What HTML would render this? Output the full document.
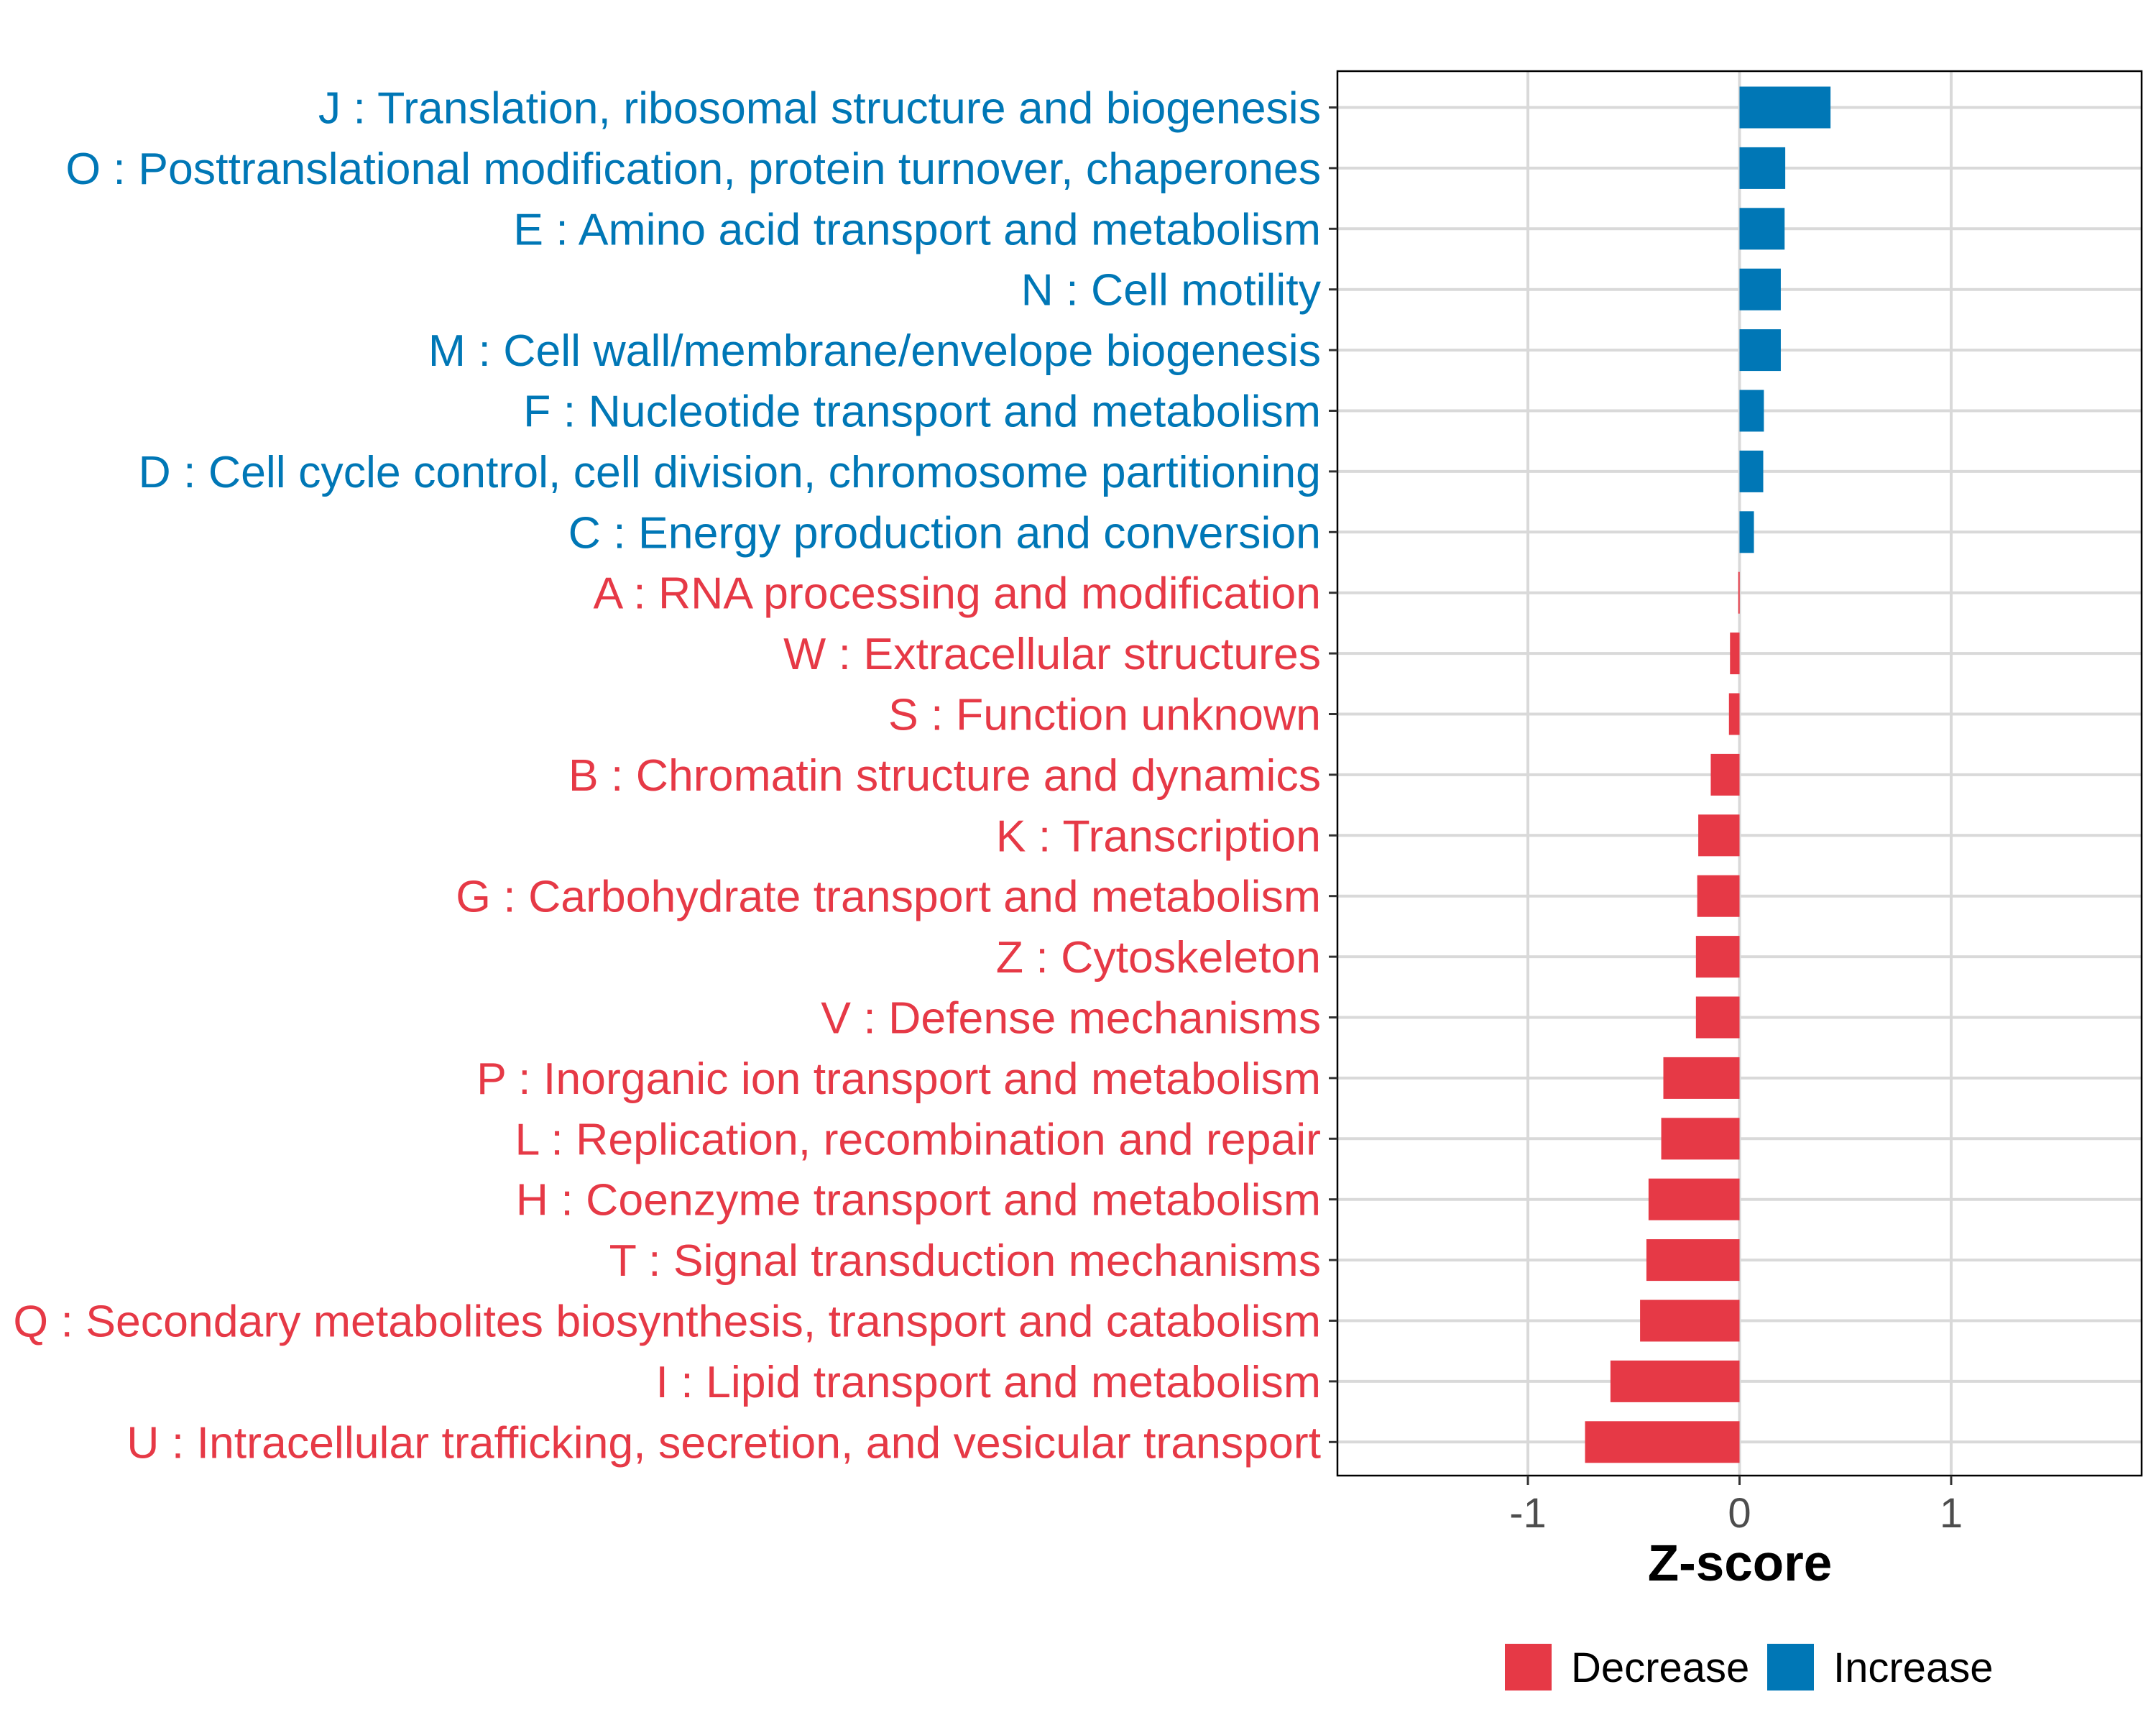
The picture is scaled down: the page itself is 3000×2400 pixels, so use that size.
<!DOCTYPE html>
<html><head><meta charset="utf-8"><style>
html,body{margin:0;padding:0;background:#fff;width:3000px;height:2400px;overflow:hidden}
svg{display:block}
text{font-family:"Liberation Sans",Arial,sans-serif}
</style></head><body>
<svg id="chart" width="3000" height="2400" viewBox="0 0 3000 2400" xmlns="http://www.w3.org/2000/svg">
<rect width="3000" height="2400" fill="#fff"/>
<g id="grid"></g>
<g id="bars"></g>
<rect x="1861" y="99" width="1119" height="1954" fill="none" stroke="#000" stroke-width="2.5"/>
<g id="yaxis"></g>
<g id="xaxis"></g>
<text x="2421" y="2199" font-size="71" font-weight="bold" text-anchor="middle" fill="#000">Z-score</text>
<g>
<rect x="2094" y="2287" width="65" height="65" fill="#E63946"/>
<text x="2186" y="2340" font-size="58" fill="#000">Decrease</text>
<rect x="2459" y="2287" width="65" height="65" fill="#0077B6"/>
<text x="2551" y="2340" font-size="58" fill="#000">Increase</text>
</g>
</svg>
<script>
const categories = [
"J : Translation, ribosomal structure and biogenesis",
"O : Posttranslational modification, protein turnover, chaperones",
"E : Amino acid transport and metabolism",
"N : Cell motility",
"M : Cell wall/membrane/envelope biogenesis",
"F : Nucleotide transport and metabolism",
"D : Cell cycle control, cell division, chromosome partitioning",
"C : Energy production and conversion",
"A : RNA processing and modification",
"W : Extracellular structures",
"S : Function unknown",
"B : Chromatin structure and dynamics",
"K : Transcription",
"G : Carbohydrate transport and metabolism",
"Z : Cytoskeleton",
"V : Defense mechanisms",
"P : Inorganic ion transport and metabolism",
"L : Replication, recombination and repair",
"H : Coenzyme transport and metabolism",
"T : Signal transduction mechanisms",
"Q : Secondary metabolites biosynthesis, transport and catabolism",
"I : Lipid transport and metabolism",
"U : Intracellular trafficking, secretion, and vesicular transport"
];
const zscores = [0.43,0.216,0.213,0.195,0.195,0.115,0.112,0.068,-0.006,-0.045,-0.05,-0.136,-0.195,-0.2,-0.206,-0.206,-0.36,-0.37,-0.43,-0.44,-0.47,-0.61,-0.73];
const xTicks = [-1,0,1];
const xTickLabels = ["-1","0","1"];

const NS = "http://www.w3.org/2000/svg";
const xMin=-1.9, xMax=1.9, pL=1861, pR=2980;
const xs = v => pL + (v - xMin) / (xMax - xMin) * (pR - pL);
const rowTop=149.5, rowStep=84.4;
const ys = i => rowTop + i * rowStep;
const barH = 58;
const RED="#E63946", BLUE="#0077B6";
function mk(tag, attrs, parent){const e=document.createElementNS(NS,tag);for(const k in attrs)e.setAttribute(k,attrs[k]);parent.appendChild(e);return e;}
const grid=document.getElementById('grid'), bars=document.getElementById('bars'), yax=document.getElementById('yaxis'), xax=document.getElementById('xaxis');

xTicks.forEach((t,i)=>{
  const l=mk('line',{x1:xs(t),x2:xs(t),y1:99,y2:2053,stroke:'#D9D9D9','stroke-width':4},grid);
  
  
  const tk=mk('line',{x1:xs(t),x2:xs(t),y1:2053,y2:2066,stroke:'#333','stroke-width':3},xax);
  
  
  const tx=mk('text',{x:xs(t),y:2125,'font-size':58,'text-anchor':'middle',fill:'#4D4D4D'},xax);
  tx.textContent=xTickLabels[i];
  
  
});
categories.forEach((c,i)=>{
  const y=ys(i), v=zscores[i], col=v>=0?BLUE:RED;
  const g=mk('line',{x1:pL,x2:pR,y1:y,y2:y,stroke:'#D9D9D9','stroke-width':4},grid);
  
  
  const x0=xs(0), x1=xs(v);
  const r=mk('rect',{x:Math.min(x0,x1),y:y-barH/2,width:Math.max(Math.abs(x1-x0),2),height:barH,fill:col},bars);
  
  
  const tk=mk('line',{x1:1849,x2:1861,y1:y,y2:y,stroke:'#333','stroke-width':3},yax);
  
  
  const t=mk('text',{x:1838,y:y+22,'font-size':62.6,'text-anchor':'end',fill:col},yax);
  t.textContent=c;
  
  
});
</script>
</body></html>
